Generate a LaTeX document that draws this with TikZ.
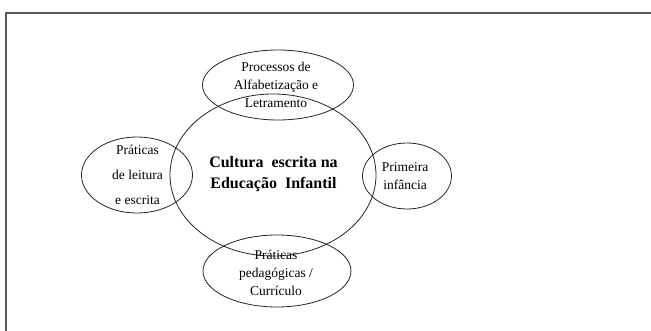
\documentclass[tikz,border=0pt]{standalone}
\usepackage{fontspec}
\setmainfont{Liberation Serif}
\usetikzlibrary{shapes.geometric}
\begin{document}
\begin{tikzpicture}[x=1pt,y=-1pt,
  ring/.style={draw=black!85,line width=0.8pt,ellipse,inner sep=0pt},
  lbl/.style={align=center,inner sep=0pt,font=\fontsize{13.5}{18}\selectfont},
  mainlbl/.style={align=center,inner sep=0pt,font=\fontsize{16}{21}\selectfont\bfseries}]
\useasboundingbox (0,0) rectangle (651,331);
\begin{scope}
\clip (0,0) rectangle (651,331);
\draw[draw=black!65,line width=1.3pt] (6,13) rectangle (670,350);
\end{scope}
% ellipses
\node[ring,minimum width=206pt,minimum height=162pt] (c) at (273,175) {};
\node[ring,minimum width=151pt,minimum height=70pt] (t) at (278,85) {};
\node[ring,minimum width=111pt,minimum height=76pt] (l) at (137,175) {};
\node[ring,minimum width=89pt,minimum height=66pt] (r) at (407,176) {};
\node[ring,minimum width=148pt,minimum height=72pt] (b) at (277,271) {};
% texts
\node[mainlbl] (ct) at (273.5,174) {Cultura\ \ escrita na\\Educação\ \ Infantil};
\node[lbl] (tt) at (276,85) {Processos de\\Alfabetização e\\Letramento};
\node[lbl,font=\fontsize{13.5}{25}\selectfont] (lt) at (137.5,175) {Práticas\\de leitura\\e escrita};
\node[lbl] (rt) at (405,176) {Primeira\\infância};
\node[lbl] (bt) at (276,273) {Práticas\\pedagógicas /\\Currículo};
\end{tikzpicture}
\end{document}
